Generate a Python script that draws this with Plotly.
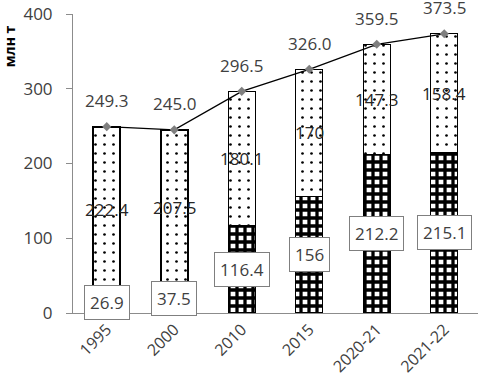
import plotly.graph_objects as go

categories = ["1995", "2000", "2010", "2015", "2020-21", "2021-22"]
bottom_vals = [26.9, 37.5, 116.4, 156, 212.2, 215.1]
top_vals = [222.4, 207.5, 180.1, 170, 147.3, 158.4]
totals = [249.3, 245.0, 296.5, 326.0, 359.5, 373.5]
bottom_labels = ["26.9", "37.5", "116.4", "156", "212.2", "215.1"]
top_labels = ["222.4", "207.5", "180.1", "170", "147.3", "158.4"]
total_labels = ["249.3", "245.0", "296.5", "326.0", "359.5", "373.5"]
y_ticks = [0, 100, 200, 300, 400]

FONT = "Open Sans"
TXT = "#404040"

fig = go.Figure()
fig.add_trace(go.Bar(
    x=categories, y=bottom_vals,
    marker=dict(color="white", line=dict(color="black", width=1.2),
                pattern=dict(shape="+", fgcolor="black", bgcolor="white",
                             size=8, solidity=0.65, fillmode="replace")),
    showlegend=False, hoverinfo="skip"))
fig.add_trace(go.Bar(
    x=categories, y=top_vals,
    marker=dict(color="white", line=dict(color="black", width=[2.2, 2.2, 1.2, 1.2, 1.2, 1.2]),
                pattern=dict(shape=".", fgcolor="black", bgcolor="white",
                             size=9, solidity=0.07, fillmode="replace")),
    showlegend=False, hoverinfo="skip"))
fig.add_trace(go.Scatter(
    x=categories, y=totals, mode="lines+markers",
    line=dict(color="black", width=1.3),
    marker=dict(symbol="diamond", size=7, color="#7f7f7f"),
    showlegend=False, hoverinfo="skip"))

annotations = []
for i, (b, t, tot, bl, tl, totl) in enumerate(zip(bottom_vals, top_vals, totals,
                                                 bottom_labels, top_labels, total_labels)):
    annotations.append(dict(x=i, y=b / 2, text=bl, showarrow=False,
                            font=dict(family=FONT, size=17, color=TXT),
                            bgcolor="white", bordercolor="#7f7f7f",
                            borderwidth=1, borderpad=5))
    annotations.append(dict(x=i, y=b + t / 2, text=tl, showarrow=False,
                            font=dict(family=FONT, size=17, color="#262626")))
    annotations.append(dict(x=i, y=tot, text=totl, showarrow=False, yshift=26,
                            font=dict(family=FONT, size=17, color=TXT)))
annotations.append(dict(xref="paper", yref="paper", x=-0.155, y=0.97,
                        text="<b>млн т</b>", textangle=-90, showarrow=False,
                        xanchor="center", yanchor="top",
                        font=dict(family=FONT, size=14, color="black")))

fig.update_layout(
    width=479, height=388,
    margin=dict(l=73, r=1, t=14, b=75),
    barmode="stack", bargap=0.6,
    plot_bgcolor="white", paper_bgcolor="white",
    font=dict(family=FONT, size=15, color=TXT),
    annotations=annotations,
    xaxis=dict(type="category", range=[-0.5, len(categories) - 0.5],
               showline=True, linecolor="#8c8c8c", linewidth=1,
               tickangle=-45, ticks="", showgrid=False,
               tickfont=dict(family=FONT, size=16, color=TXT)),
    yaxis=dict(range=[0, 400], tickvals=y_ticks, showline=True,
               linecolor="#8c8c8c", linewidth=1, ticks="outside",
               ticklen=6, tickcolor="#8c8c8c", showgrid=False, zeroline=False,
               ticklabelstandoff=10,
               tickfont=dict(family=FONT, size=17, color=TXT)),
)
fig.write_html("out.html", config={"displayModeBar": False},
               post_script="document.body.style.margin='0';")
